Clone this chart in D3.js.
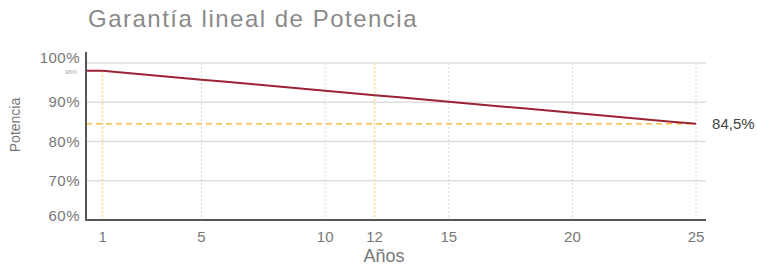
<!DOCTYPE html>
<html>
<head>
<meta charset="utf-8">
<script src="https://cdn.jsdelivr.net/npm/d3@7"></script>
<style>
  body { margin: 0; background: #fff; }
  svg text { font-family: "Liberation Sans", Arial, sans-serif; }
</style>
</head>
<body>
<div id="chart"></div>
<script>
// data
var years  = [0, 1, 2, 3, 4, 5, 6, 7, 8, 9, 10, 11, 12, 13, 14, 15, 16, 17, 18, 19, 20, 21, 22, 23, 24, 25];
var power  = [98, 98, 97.44, 96.88, 96.31, 95.75, 95.19, 94.63, 94.06, 93.5, 92.94, 92.38, 91.81, 91.25, 90.69, 90.13, 89.56, 89, 88.44, 87.88, 87.31, 86.75, 86.19, 85.63, 85.06, 84.5];
var xTicks = [1, 5, 10, 12, 15, 20, 25];
var xGrid  = [5, 10, 15, 20, 25];
var yTicks = [60, 70, 80, 90, 100];
var markYears = [1, 12];
var finalValue = 84.5;
var startValue = 98;

var W = 757, H = 266;
var margin = {top: 52, left: 86, right: 51, bottom: 46};
var w = W - margin.left - margin.right;
var h = H - margin.top - margin.bottom;

var svg = d3.select("#chart")
	.append("svg")
	.attr("width", W)
	.attr("height", H);

var x = d3.scaleLinear().domain([0.33, 25.4]).range([0, w]);
var y = d3.scaleLinear().domain([60, 102.8]).range([h, 0]);

// title
svg.append("text")
	.attr("x", 88)
	.attr("y", 27)
	.attr("font-size", "24px")
	.attr("letter-spacing", "1.5px")
	.style("fill", "#8a8a8a")
	.text("Garantía lineal de Potencia");

var g = svg.append("g")
	.attr("transform", "translate(" + margin.left + "," + margin.top + ")");

svg.append("clipPath").attr("id", "clip")
	.append("rect").attr("width", w).attr("height", h);

// horizontal grid
g.selectAll(".hgrid")
	.data(yTicks.filter(function(d) { return d > 60; }))
	.enter().append("line")
	.attr("x1", 0).attr("x2", w)
	.attr("y1", function(d) { return y(d); })
	.attr("y2", function(d) { return y(d); })
	.style("stroke", "#dedede")
	.style("stroke-width", 1.5);

// vertical dotted grid
g.selectAll(".vgrid")
	.data(xGrid)
	.enter().append("line")
	.attr("x1", function(d) { return x(d); })
	.attr("x2", function(d) { return x(d); })
	.attr("y1", y(100)).attr("y2", h)
	.style("stroke", "#d6d6d6")
	.style("stroke-dasharray", "2,2");

// orange markers
g.selectAll(".mark")
	.data(markYears)
	.enter().append("line")
	.attr("x1", function(d) { return x(d); })
	.attr("x2", function(d) { return x(d); })
	.attr("y1", function(d) { return d == 1 ? y(startValue) : y(100); })
	.attr("y2", h)
	.style("stroke", "#fcd88f")
	.style("stroke-width", 1.5)
	.style("stroke-dasharray", "2,2");

g.append("line")
	.attr("x1", 0).attr("x2", x(25))
	.attr("y1", y(finalValue)).attr("y2", y(finalValue))
	.style("stroke", "#f8bd4a")
	.style("stroke-width", 1.5)
	.style("stroke-dasharray", "6,4");

// the warranty line
var line = d3.line()
	.x(function(d, i) { return x(years[i]); })
	.y(function(d) { return y(d); });

g.append("path")
	.datum(power)
	.attr("clip-path", "url(#clip)")
	.attr("d", line)
	.style("fill", "none")
	.style("stroke", "#9b2335")
	.style("stroke-width", 2);

// axes lines
g.append("line")
	.attr("x1", 0).attr("x2", 0).attr("y1", 0).attr("y2", h + 1)
	.style("stroke", "#555").style("stroke-width", 2);
g.append("line")
	.attr("x1", -1).attr("x2", w).attr("y1", h).attr("y2", h)
	.style("stroke", "#555").style("stroke-width", 2);

// y tick labels
var yOffset = {100: -5, 60: -4};
g.selectAll(".ylab")
	.data(yTicks)
	.enter().append("text")
	.attr("x", -6)
	.attr("y", function(d) { return y(d) + (yOffset[d] || 0); })
	.attr("dy", "0.35em")
	.attr("text-anchor", "end")
	.attr("font-size", "15px")
	.attr("letter-spacing", "0.5px")
	.style("fill", "#777")
	.text(function(d) { return d + "%"; });

g.append("text")
	.attr("x", -9)
	.attr("y", y(startValue) + 1)
	.attr("dy", "0.35em")
	.attr("text-anchor", "end")
	.attr("font-size", "6px")
	.style("fill", "#aaa")
	.text(startValue + "%");

// x tick labels
g.selectAll(".xlab")
	.data(xTicks)
	.enter().append("text")
	.attr("x", function(d) { return x(d); })
	.attr("y", h + 22)
	.attr("text-anchor", "middle")
	.attr("font-size", "15px")
	.style("fill", "#777")
	.text(function(d) { return d; });

// axis titles
svg.append("text")
	.attr("x", 384)
	.attr("y", 262)
	.attr("text-anchor", "middle")
	.attr("font-size", "18px")
	.style("fill", "#777")
	.text("Años");

svg.append("text")
	.attr("transform", "translate(20,125) rotate(-90)")
	.attr("text-anchor", "middle")
	.attr("font-size", "14px")
	.style("fill", "#777")
	.text("Potencia");

// final value label
g.append("text")
	.attr("x", x(25) + 16)
	.attr("y", y(finalValue))
	.attr("dy", "0.35em")
	.attr("font-size", "15px")
	.style("fill", "#444")
	.text("84,5%");
</script>
</body>
</html>
